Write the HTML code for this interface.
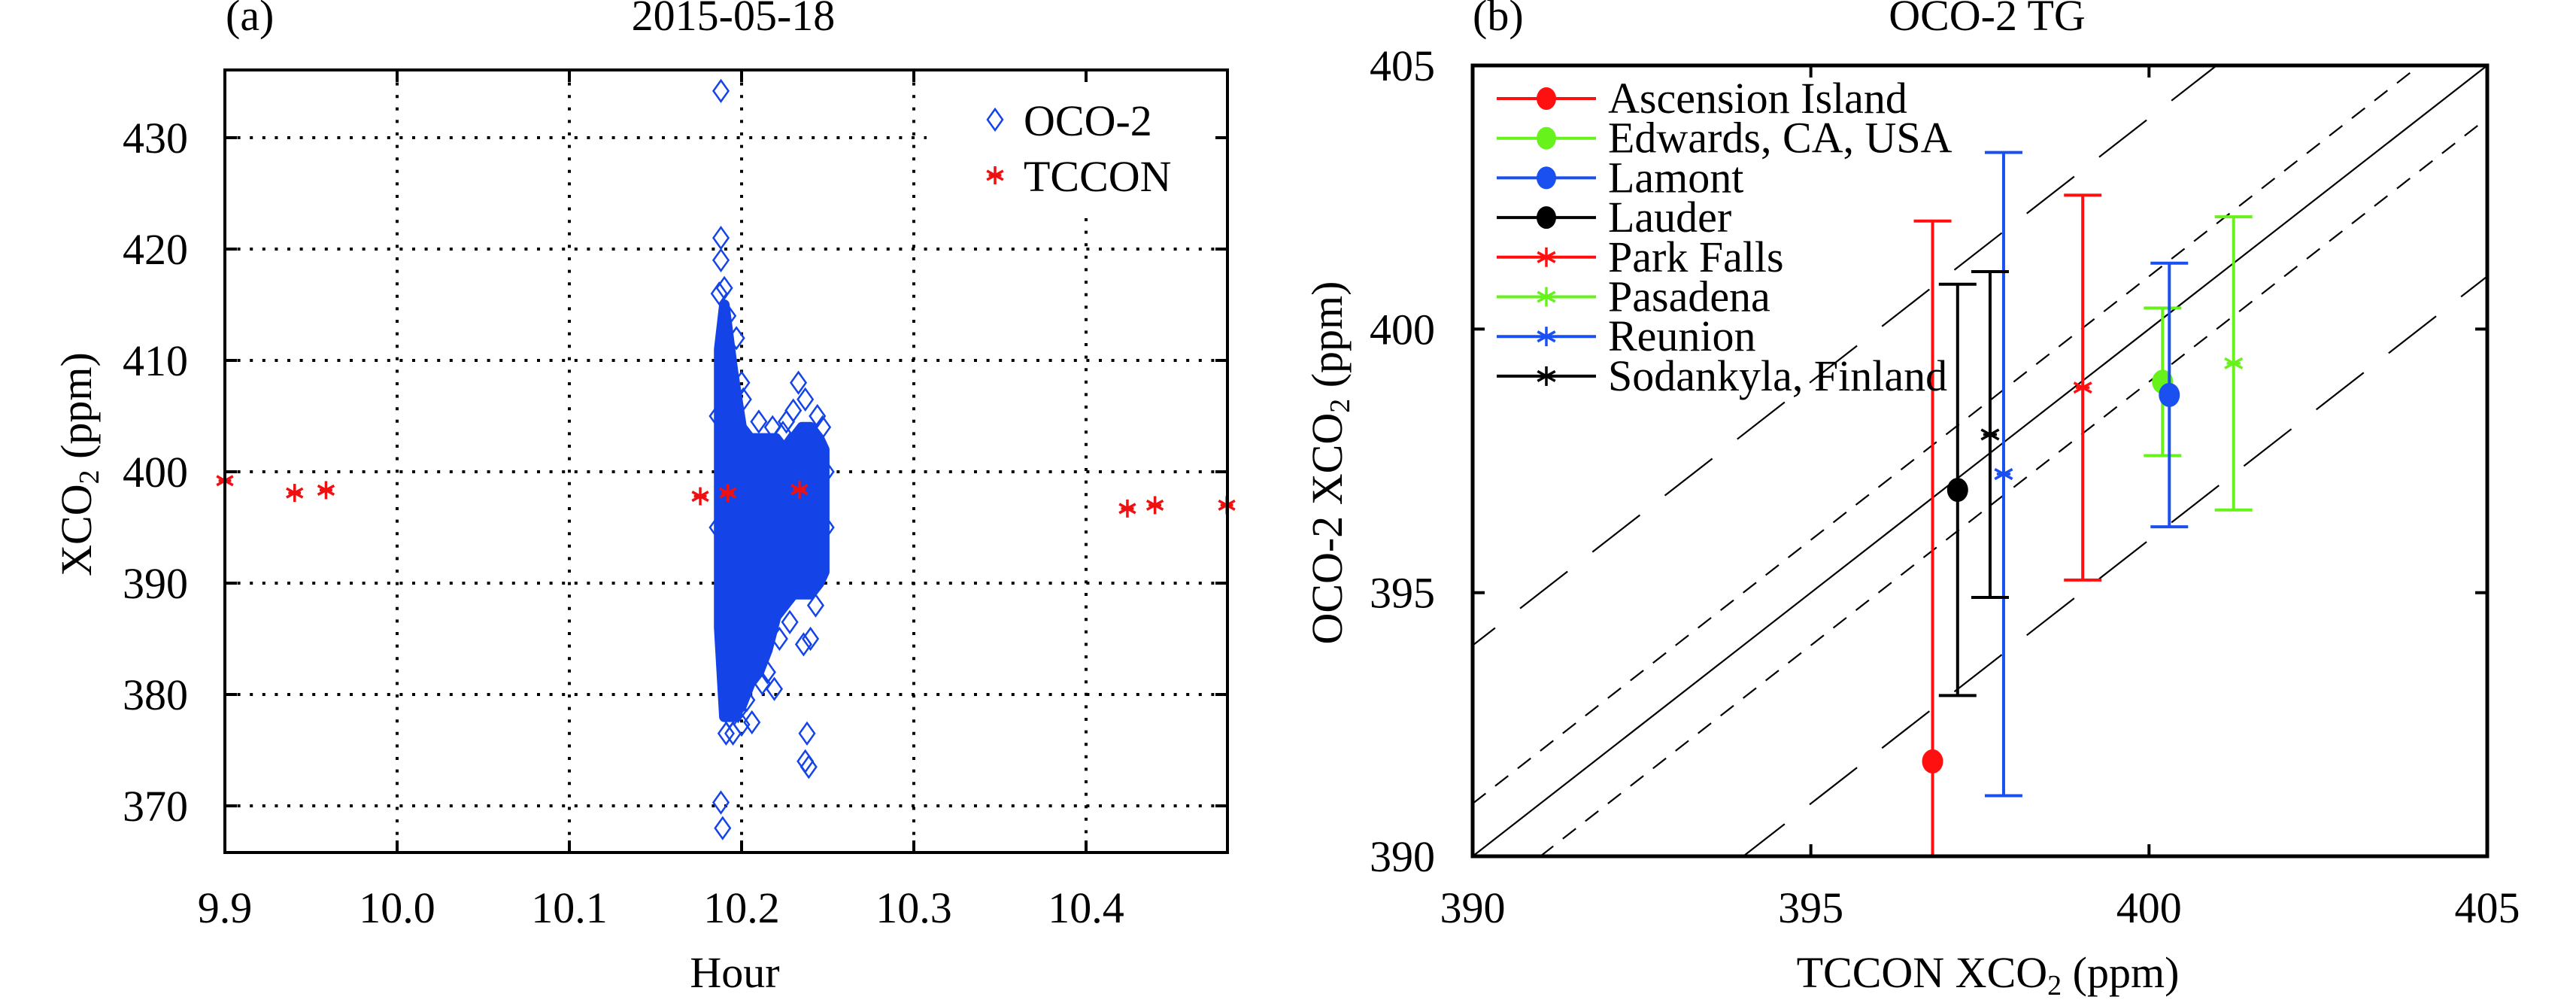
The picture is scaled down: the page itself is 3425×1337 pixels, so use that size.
<!DOCTYPE html>
<html><head><meta charset="utf-8"><style>
html,body{margin:0;padding:0;background:#fff;width:3425px;height:1337px;overflow:hidden}
svg{display:block}
text{font-family:"Liberation Serif","Times New Roman",serif;fill:#000}
</style></head><body>
<svg id="fig" width="3425" height="1337" viewBox="0 0 3425 1337" font-family="Liberation Serif, serif" xmlns="http://www.w3.org/2000/svg">
<defs>
<clipPath id="clipA"><rect x="299" y="93" width="1333" height="1040"/></clipPath>
<clipPath id="clipB"><rect x="1958" y="87" width="1349" height="1051"/></clipPath>
</defs>
<g id="panelA"></g>
<g id="panelB"></g>
</svg>
<script>
// ---------- Panel (a) data ----------
const aXTicks = [9.9, 10.0, 10.1, 10.2, 10.3, 10.4];
const aXTickLabels = ["9.9","10.0","10.1","10.2","10.3","10.4"];
const aYTicks = [370, 380, 390, 400, 410, 420, 430];
const tcconHours = [9.900, 9.9405, 9.9587, 10.176, 10.192, 10.2336, 10.424, 10.440, 10.4817];
const tcconValues = [399.2, 398.1, 398.35, 397.8, 398.1, 398.4, 396.7, 397.0, 397.0];
const ocoCoreHours = [10.187, 10.190, 10.195, 10.200, 10.205, 10.210, 10.215, 10.220, 10.225, 10.230, 10.235, 10.240, 10.245, 10.248];
const ocoCoreTop = [411, 415, 409, 404, 403, 403, 403, 403, 402, 403, 404, 404, 403, 402];
const ocoCoreBottom = [386, 378, 378, 379, 381, 382, 384, 387, 388, 389, 389, 389, 390, 391];
const ocoHours = [10.188, 10.188, 10.188, 10.187, 10.190, 10.192, 10.191, 10.200, 10.201, 10.233, 10.237, 10.210, 10.218, 10.188, 10.189, 10.238, 10.237, 10.239, 10.240, 10.236, 10.206, 10.219, 10.215, 10.195, 10.200, 10.191, 10.224, 10.247, 10.186, 10.186, 10.197, 10.203, 10.212, 10.222, 10.228, 10.243, 10.249, 10.249, 10.244, 10.230, 10.226, 10.193, 10.198];
const ocoValues = [434.2, 421, 419, 416, 416.5, 414, 411, 408, 406.5, 408, 406.5, 404.5, 404, 370.3, 368, 376.5, 374, 373.5, 385, 384.5, 377.5, 380.5, 382, 376.5, 377.3, 376.5, 403.5, 404, 405, 395, 412, 379.5, 381, 385, 386.5, 388, 395, 400, 405, 405.5, 404.5, 378, 378.5];

// ---------- Panel (b) data ----------
const bTicks = [390, 395, 400, 405];
const sites = ["Ascension Island","Edwards, CA, USA","Lamont","Lauder","Park Falls","Pasadena","Reunion","Sodankyla, Finland"];
const siteTccon = [396.8, 400.2, 400.3, 397.17, 399.02, 401.25, 397.85, 397.65];
const siteOco = [391.8, 399.0, 398.75, 396.95, 398.89, 399.35, 397.25, 398.0];
const siteErr = [10.25, 1.4, 2.5, 3.9, 3.65, 2.78, 6.1, 3.09];
const siteColors = ["#ff1010","#66f21a","#1a4ff0","#000000","#ff1010","#66f21a","#1a4ff0","#000000"];
const siteMarkers = ["circle","circle","circle","circle","star","star","star","star"];
const refOffsets = [0, 1, -1, 4, -4];
const refStyles = ["solid","short","short","long","long"];

const NS = "http://www.w3.org/2000/svg";
function mk(parent, tag, attrs){ const e=document.createElementNS(NS,tag); for(const k in attrs) e.setAttribute(k,attrs[k]); parent.appendChild(e); return e; }

const ax = v => 299 + (v - 9.9) * 2290;
const ay = v => 183 + (430 - v) * 14.8;
const bx = v => 1958 + (v - 390) * 89.93;
const by = v => 87 + (405 - v) * 70.07;

function star(g, cx, cy, r, color, w){
  mk(g,'line',{x1:cx,y1:cy-r,x2:cx,y2:cy+r,stroke:color,'stroke-width':w});
  mk(g,'line',{x1:cx-r*0.9,y1:cy-r*0.5,x2:cx+r*0.9,y2:cy+r*0.5,stroke:color,'stroke-width':w});
  mk(g,'line',{x1:cx-r*0.9,y1:cy+r*0.5,x2:cx+r*0.9,y2:cy-r*0.5,stroke:color,'stroke-width':w});
  mk(g,'line',{x1:cx-r*0.7,y1:cy,x2:cx+r*0.7,y2:cy,stroke:color,'stroke-width':w});
}
function diamond(g, cx, cy, color){
  return mk(g,'path',{d:`M${cx},${cy-14} L${cx+10},${cy} L${cx},${cy+14} L${cx-10},${cy} Z`,fill:'none',stroke:color,'stroke-width':2.5});
}
function txt(parent, attrs, content, name){
  attrs['font-family']='Liberation Serif, serif';
  const t=mk(parent,'text',attrs);
  t.innerHTML=content;
  
  
  return t;
}

// ================= Panel A =================
const A = document.getElementById('panelA');
const gridA = mk(A,'g',{});


aXTicks.slice(1).forEach(v=>{
  const yTop = v===10.4 ? 290 : 93;
  const l=mk(gridA,'line',{x1:ax(v),y1:yTop,x2:ax(v),y2:1133,stroke:'#000','stroke-width':4,'stroke-dasharray':'4 12.6'});
  
  
});
aYTicks.forEach(v=>{
  const xEnd = v===430 ? 1232 : 1632;
  const l=mk(gridA,'line',{x1:299,y1:ay(v),x2:xEnd,y2:ay(v),stroke:'#000','stroke-width':4,'stroke-dasharray':'4 12.6'});
  
  
});
aXTicks.forEach((v,i)=>{
  mk(A,'line',{x1:ax(v),y1:1133,x2:ax(v),y2:1117,stroke:'#000','stroke-width':4});
  mk(A,'line',{x1:ax(v),y1:93,x2:ax(v),y2:109,stroke:'#000','stroke-width':4});
  txt(A,{x:ax(v),y:1226,'font-size':58,'text-anchor':'middle'},aXTickLabels[i],'x-tick-label');
});
aYTicks.forEach(v=>{
  mk(A,'line',{x1:299,y1:ay(v),x2:315,y2:ay(v),stroke:'#000','stroke-width':4});
  mk(A,'line',{x1:1632,y1:ay(v),x2:1616,y2:ay(v),stroke:'#000','stroke-width':4});
  txt(A,{x:250,y:ay(v)+20,'font-size':58,'text-anchor':'end'},String(v),'y-tick-label');
});
const ocoG = mk(A,'g',{'clip-path':'url(#clipA)'});


let pts = ocoCoreHours.map((h,i)=>`${ax(h)},${ay(ocoCoreTop[i])}`);
pts = pts.concat(ocoCoreHours.map((h,i)=>`${ax(h)},${ay(ocoCoreBottom[i])}`).reverse());
const core = mk(ocoG,'polygon',{points:pts.join(' '),fill:'#1444e8',stroke:'#1444e8','stroke-width':14,'stroke-linejoin':'round'});


ocoHours.forEach((h,i)=>{
  const d=diamond(ocoG, ax(h), ay(ocoValues[i]), '#1444e8');
  
  
});
const tcG = mk(A,'g',{});


tcconHours.forEach((h,i)=>{ star(tcG, ax(h), ay(tcconValues[i]), 12, '#ee1111', 3.5); });
const fA=mk(A,'rect',{x:299,y:93,width:1333,height:1040,fill:'none',stroke:'#000','stroke-width':4});


const legA = mk(A,'g',{});


diamond(legA,1323,159,'#1444e8');
star(legA,1323,233,12,'#ee1111',3.5);
txt(legA,{x:1361,y:180,'font-size':58},'OCO-2','legend-entry-oco2');
txt(legA,{x:1361,y:254,'font-size':58},'TCCON','legend-entry-tccon');
txt(A,{x:300,y:40,'font-size':58},'(a)','panel-label-a');
txt(A,{x:975,y:40,'font-size':58,'text-anchor':'middle'},'2015-05-18','chart-title-a');
txt(A,{x:977,y:1312,'font-size':58,'text-anchor':'middle'},'Hour','x-axis-title-a');
txt(A,{x:0,y:0,'font-size':58,'text-anchor':'middle',transform:'translate(121,617) rotate(-90)'},
  'XCO<tspan font-size="38" dy="10">2</tspan><tspan dy="-10"> (ppm)</tspan>','y-axis-title-a');

// ================= Panel B =================
const B = document.getElementById('panelB');
const refG = mk(B,'g',{'clip-path':'url(#clipB)'});


refOffsets.forEach((o,i)=>{
  const attrs={x1:bx(380),y1:by(380+o),x2:bx(415),y2:by(415+o),stroke:'#000','stroke-width':2.2};
  if(refStyles[i]==='short') attrs['stroke-dasharray']='22 16';
  if(refStyles[i]==='long') attrs['stroke-dasharray']='80 42';
  const l=mk(refG,'line',attrs);
  
  
});
const ebG = mk(B,'g',{'clip-path':'url(#clipB)'});


sites.forEach((s,i)=>{
  const g=mk(ebG,'g',{});
  
  
  const x=bx(siteTccon[i]), yt=by(siteOco[i]+siteErr[i]), yb=by(siteOco[i]-siteErr[i]), c=siteColors[i];
  mk(g,'line',{x1:x,y1:yt,x2:x,y2:yb,stroke:c,'stroke-width':4});
  mk(g,'line',{x1:x-25,y1:yt,x2:x+25,y2:yt,stroke:c,'stroke-width':4});
  mk(g,'line',{x1:x-25,y1:yb,x2:x+25,y2:yb,stroke:c,'stroke-width':4});
  if(siteMarkers[i]==='circle') mk(g,'ellipse',{cx:x,cy:by(siteOco[i]),rx:14,ry:16,fill:c});
  else star(g,x,by(siteOco[i]),13,c,3.5);
});
bTicks.slice(1,3).forEach(v=>{
  mk(B,'line',{x1:1958,y1:by(v),x2:1974,y2:by(v),stroke:'#000','stroke-width':4});
  mk(B,'line',{x1:3307,y1:by(v),x2:3291,y2:by(v),stroke:'#000','stroke-width':4});
  mk(B,'line',{x1:bx(v),y1:1138,x2:bx(v),y2:1122,stroke:'#000','stroke-width':4});
  mk(B,'line',{x1:bx(v),y1:87,x2:bx(v),y2:103,stroke:'#000','stroke-width':4});
});
bTicks.forEach(v=>{
  txt(B,{x:1908,y:by(v)+20,'font-size':58,'text-anchor':'end'},String(v),'y-tick-label');
  txt(B,{x:bx(v),y:1226,'font-size':58,'text-anchor':'middle'},String(v),'x-tick-label');
});
const fB=mk(B,'rect',{x:1958,y:87,width:1349,height:1051,fill:'none',stroke:'#000','stroke-width':5});


const legB = mk(B,'g',{});


sites.forEach((s,i)=>{
  const y=131+i*52.7, c=siteColors[i];
  const g=mk(legB,'g',{});
  
  
  mk(g,'line',{x1:1990,y1:y,x2:2122,y2:y,stroke:c,'stroke-width':4});
  if(siteMarkers[i]==='circle') mk(g,'ellipse',{cx:2056,cy:y,rx:13,ry:15,fill:c});
  else star(g,2056,y,13,c,3.5);
  txt(g,{x:2138,y:y+19,'font-size':58},s,'legend-label');
});
txt(B,{x:1958,y:40,'font-size':58},'(b)','panel-label-b');
txt(B,{x:2642,y:40,'font-size':58,'text-anchor':'middle'},'OCO-2 TG','chart-title-b');
txt(B,{x:2643,y:1312,'font-size':58,'text-anchor':'middle'},
  'TCCON XCO<tspan font-size="38" dy="10">2</tspan><tspan dy="-10"> (ppm)</tspan>','x-axis-title-b');
txt(B,{x:0,y:0,'font-size':58,'text-anchor':'middle',transform:'translate(1784,615) rotate(-90)'},
  'OCO-2 XCO<tspan font-size="38" dy="10">2</tspan><tspan dy="-10"> (ppm)</tspan>','y-axis-title-b');
</script>
</body></html>
